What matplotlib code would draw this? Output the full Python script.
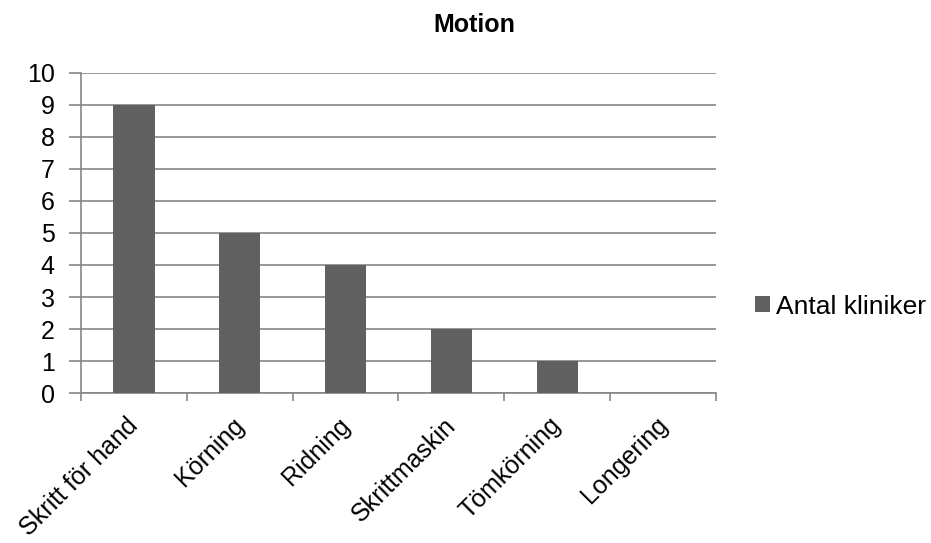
import numpy as np
import matplotlib.pyplot as plt
from matplotlib.transforms import ScaledTranslation

plt.rcParams['font.family'] = ['Liberation Sans', 'DejaVu Sans']

categories = ['Skritt för hand', 'Körning', 'Ridning', 'Skrittmaskin', 'Tömkörning', 'Longering']
antal_kliniker = [9, 5, 4, 2, 1, 0]
yticks = list(range(0, 11))

bar_color = '#606060'
line_color = '#868686'
fs = 18

fig = plt.figure(figsize=(9.31, 5.43), dpi=100)
ax = fig.add_axes([0.087, 0.276, 0.682, 0.59])

x = np.arange(len(categories))
ax.bar(x, antal_kliniker, width=0.39, color=bar_color, zorder=3, label='Antal kliniker')

ax.set_xlim(-0.5, len(categories) - 0.5)
ax.set_ylim(0, 10)
ax.set_yticks(yticks)
ax.yaxis.grid(True, color=line_color, linewidth=1.2, zorder=0)

# category labels at bar centres, tick marks at the boundaries
ax.set_xticks(x)
ax.set_xticklabels(categories, rotation=45, ha='right', rotation_mode='anchor', fontsize=fs)
ax.tick_params(axis='x', which='major', length=0, pad=10)
shift = ScaledTranslation(-8 / 100, -6 / 100, fig.dpi_scale_trans)
for lbl in ax.get_xticklabels():
    lbl.set_transform(lbl.get_transform() + shift)
ax.set_xticks(np.arange(len(categories) + 1) - 0.5, minor=True)
ax.tick_params(axis='x', which='minor', length=6, width=1.2, color=line_color, direction='out')
ax.tick_params(axis='y', length=9, width=1.2, color=line_color, labelsize=fs, pad=10)

for side in ('top', 'right'):
    ax.spines[side].set_visible(False)
for side in ('left', 'bottom'):
    ax.spines[side].set_color(line_color)
    ax.spines[side].set_linewidth(1.2)

fig.text(0.509, 0.954, 'Motion', ha='center', va='center', fontsize=fs, fontweight='bold')

ax.legend(loc='center left', bbox_to_anchor=(1.024, 0.27), frameon=False, fontsize=19,
          handlelength=0.57, handleheight=0.57, handletextpad=0.23)

fig.savefig('out.png', dpi=100)
